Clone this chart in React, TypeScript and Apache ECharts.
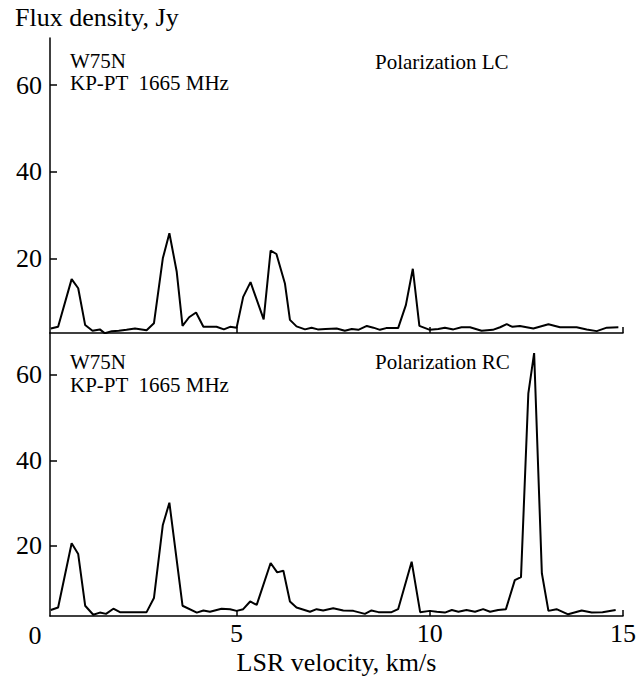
import React, { useEffect, useRef } from "react";
import * as echarts from "echarts";

const lcVel = [0.19, 0.38, 0.73, 0.9, 1.08, 1.27, 1.46, 1.59, 1.77, 1.95, 2.15, 2.37, 2.67, 2.86, 3.09, 3.26, 3.45, 3.6, 3.77, 3.95, 4.14, 4.31, 4.48, 4.67, 4.83, 5.0, 5.17, 5.36, 5.7, 5.88, 6.03, 6.25, 6.38, 6.55, 6.77, 6.94, 7.1, 7.3, 7.59, 7.8, 7.98, 8.15, 8.37, 8.54, 8.71, 8.87, 9.18, 9.38, 9.56, 9.73, 10.0, 10.22, 10.39, 10.61, 10.82, 11.04, 11.34, 11.63, 11.82, 11.99, 12.14, 12.33, 12.68, 13.07, 13.37, 13.8, 14.06, 14.32, 14.58, 14.88];
const lcFlux = [3.8, 4.2, 15.2, 13.1, 4.6, 3.3, 3.6, 2.7, 3.2, 3.3, 3.5, 3.8, 3.4, 5.0, 20.0, 25.8, 16.9, 4.4, 6.4, 7.5, 4.2, 4.2, 4.2, 3.6, 4.2, 4.0, 11.1, 14.5, 5.9, 21.8, 21.0, 14.2, 5.8, 4.3, 3.6, 4.0, 3.6, 3.7, 3.8, 3.3, 3.7, 3.5, 4.4, 4.0, 3.5, 3.9, 3.9, 9.2, 17.6, 4.4, 3.5, 3.7, 4.0, 3.6, 4.1, 4.1, 3.3, 3.5, 4.1, 4.8, 4.2, 4.4, 3.8, 4.8, 4.1, 4.1, 3.6, 3.2, 4.0, 4.1];

const rcVel = [0.19, 0.38, 0.73, 0.9, 1.08, 1.29, 1.46, 1.62, 1.81, 1.98, 2.67, 2.86, 3.09, 3.26, 3.6, 3.97, 4.14, 4.31, 4.61, 4.83, 5.0, 5.17, 5.35, 5.52, 5.88, 6.05, 6.21, 6.38, 6.55, 6.9, 7.07, 7.24, 7.5, 7.76, 8.02, 8.32, 8.49, 8.67, 9.01, 9.18, 9.53, 9.75, 10.0, 10.18, 10.39, 10.57, 10.74, 10.95, 11.17, 11.38, 11.56, 11.77, 11.97, 12.2, 12.36, 12.55, 12.7, 12.9, 13.07, 13.28, 13.58, 13.93, 14.19, 14.47, 14.81];
const rcFlux = [5.0, 5.6, 20.6, 18.1, 6.0, 3.9, 4.4, 4.1, 5.3, 4.5, 4.5, 7.8, 24.9, 30.1, 6.0, 4.4, 4.9, 4.6, 5.3, 5.2, 4.8, 5.2, 7.0, 6.2, 16.0, 13.8, 14.2, 7.0, 5.6, 4.6, 5.2, 4.9, 5.4, 4.9, 4.8, 4.1, 4.9, 4.5, 4.5, 5.2, 16.3, 4.5, 4.8, 4.6, 4.4, 5.0, 4.6, 5.0, 4.6, 5.2, 4.6, 5.0, 5.2, 12.0, 12.7, 55.7, 65.1, 13.6, 4.8, 5.2, 4.0, 4.9, 4.4, 4.5, 5.0];

const xTicks = [5, 10, 15];
const yTicks = [20, 40, 60];
const yAxisTitle = "Flux density, Jy";
const xAxisTitle = "LSR velocity, km/s";
const sourceName = "W75N";
const instrument = "KP-PT  1665 MHz";
const polTop = "Polarization LC";
const polBottom = "Polarization RC";

const FONT = "'Liberation Serif', 'Times New Roman', serif";

export default function App() {
  const ref = useRef<HTMLDivElement>(null);
  useEffect(() => {
    if (!ref.current) return;
    const chart = echarts.init(ref.current, null, { renderer: "svg" });
    const axisLine = { show: true, onZero: false, lineStyle: { color: "#000", width: 1.5 } };
    const mkX = (gridIndex: number, labels: boolean) => ({
      type: "value",
      gridIndex,
      min: 0.17,
      max: 15,
      axisLine,
      splitLine: { show: false },
      axisTick: { show: true, inside: true, length: 6, customValues: xTicks, lineStyle: { color: "#000", width: 1.5 } },
      axisLabel: labels
        ? { show: true, customValues: xTicks, fontSize: 26, fontFamily: FONT, color: "#000", margin: 4 }
        : { show: false },
      name: labels ? xAxisTitle : "",
      nameLocation: "middle",
      nameGap: 33,
      nameTextStyle: { fontSize: 26, fontFamily: FONT, color: "#000" },
    });
    const mkY = (gridIndex: number, min: number, max: number) => ({
      type: "value",
      gridIndex,
      min,
      max,
      axisLine,
      splitLine: { show: false },
      axisTick: { show: true, inside: true, length: 7, customValues: yTicks, lineStyle: { color: "#000", width: 1.5 } },
      axisLabel: { show: true, customValues: yTicks, fontSize: 26, fontFamily: FONT, color: "#000", margin: 8 },
    });
    const textStyle = (size: number) => ({ fontSize: size, fontFamily: FONT, fill: "#000" });
    chart.setOption({
      animation: false,
      backgroundColor: "#fff",
      grid: [
        { left: 50, right: 18, top: 38, height: 295 },
        { left: 50, right: 18, top: 333, height: 283 },
      ],
      xAxis: [mkX(0, false), mkX(1, true)],
      yAxis: [mkY(0, 2.77, 70.85), mkY(1, 3.6, 69.8)],
      series: [
        {
          type: "line",
          xAxisIndex: 0,
          yAxisIndex: 0,
          data: lcVel.map((v, i) => [v, lcFlux[i]]),
          showSymbol: false,
          lineStyle: { color: "#000", width: 2 },
        },
        {
          type: "line",
          xAxisIndex: 1,
          yAxisIndex: 1,
          data: rcVel.map((v, i) => [v, rcFlux[i]]),
          showSymbol: false,
          lineStyle: { color: "#000", width: 2 },
        },
      ],
      graphic: [
        { type: "text", left: 15, top: 4, style: { text: yAxisTitle, ...textStyle(26) } },
        { type: "text", x: 35, y: 635, style: { text: "0", ...textStyle(26), align: "center", verticalAlign: "middle" } },
        { type: "text", x: 70, y: 61, style: { text: sourceName, ...textStyle(21), verticalAlign: "middle" } },
        { type: "text", x: 70, y: 83, style: { text: instrument, ...textStyle(21), verticalAlign: "middle" } },
        { type: "text", x: 375, y: 62, style: { text: polTop, ...textStyle(21), verticalAlign: "middle" } },
        { type: "text", x: 70, y: 362, style: { text: sourceName, ...textStyle(21), verticalAlign: "middle" } },
        { type: "text", x: 70, y: 385, style: { text: instrument, ...textStyle(21), verticalAlign: "middle" } },
        { type: "text", x: 375, y: 362, style: { text: polBottom, ...textStyle(21), verticalAlign: "middle" } },
      ],
    });
    return () => chart.dispose();
  }, []);
  return <div ref={ref} style={{ position: "fixed", left: 0, top: 0, width: 641, height: 677 }} />;
}
